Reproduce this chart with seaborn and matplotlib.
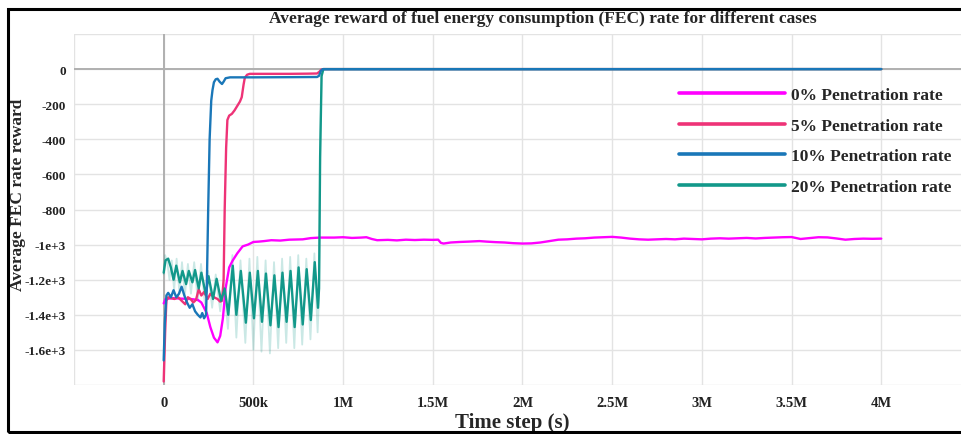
import numpy as np
import pandas as pd
import matplotlib
matplotlib.use("Agg")
import matplotlib.pyplot as plt
import seaborn as sns
from matplotlib.patches import Rectangle
from matplotlib.lines import Line2D

# ---------------- data ----------------
case_labels = ["0% Penetration rate", "5% Penetration rate",
               "10% Penetration rate", "20% Penetration rate"]
case_colors = ["#ff00ff", "#ee3377", "#1a77b8", "#12988a"]

# 0% penetration (smoothed)
t_0pct = [0, 10e3, 50e3, 100e3, 150e3, 190e3, 210e3, 240e3, 260e3, 280e3, 300e3, 315e3,
          330e3, 345e3, 365e3, 385e3, 410e3, 440e3, 470e3, 500e3, 530e3, 560e3, 600e3,
          650e3, 700e3, 775e3, 820e3, 870e3, 950e3, 1000e3, 1050e3, 1100e3, 1130e3,
          1160e3, 1190e3, 1250e3, 1300e3, 1350e3, 1400e3, 1450e3, 1500e3, 1530e3,
          1545e3, 1560e3, 1600e3, 1650e3, 1700e3, 1760e3, 1800e3, 1850e3, 1900e3,
          1950e3, 2000e3, 2050e3, 2100e3, 2150e3, 2200e3, 2250e3, 2300e3, 2350e3,
          2400e3, 2450e3, 2500e3, 2550e3, 2600e3, 2650e3, 2700e3, 2750e3, 2800e3,
          2850e3, 2900e3, 2950e3, 3000e3, 3050e3, 3100e3, 3150e3, 3200e3, 3250e3,
          3300e3, 3350e3, 3400e3, 3450e3, 3500e3, 3550e3, 3600e3, 3650e3, 3700e3,
          3750e3, 3800e3, 3850e3, 3900e3, 3950e3, 4000e3]
r_0pct = [-1335, -1310, -1305, -1308, -1310, -1315, -1330, -1390, -1470, -1530, -1557, -1520,
          -1420, -1250, -1130, -1090, -1050, -1010, -1000, -985, -983, -980, -975,
          -977, -972, -970, -963, -960, -960, -958, -962, -960, -958,
          -968, -975, -973, -976, -972, -974, -972, -973, -972,
          -990, -994, -988, -985, -983, -980, -983, -986, -988,
          -992, -994, -993, -988, -980, -972, -970, -966, -964,
          -960, -958, -956, -960, -966, -970, -972, -970, -968,
          -970, -966, -968, -970, -966, -964, -966, -964, -962,
          -965, -962, -960, -958, -957, -968, -963, -958, -959,
          -965, -972, -968, -966, -967, -966]

# 5% penetration (smoothed)
t_5pct = [0, 8e3, 15e3, 25e3, 40e3, 60e3, 80e3, 100e3, 120e3, 135e3, 150e3, 165e3, 180e3,
          195e3, 210e3, 225e3, 245e3, 260e3, 280e3, 300e3, 315e3, 325e3, 334e3, 340e3,
          348e3, 355e3, 365e3, 380e3, 395e3, 410e3, 425e3, 435e3, 445e3, 452e3, 465e3,
          480e3, 600e3, 700e3, 800e3, 855e3, 868e3, 878e3, 890e3, 4000e3]
r_5pct = [-1780, -1500, -1320, -1300, -1305, -1310, -1300, -1320, -1340, -1300, -1310, -1330, -1315,
          -1255, -1290, -1270, -1310, -1280, -1300, -1310, -1325, -1320, -1200, -800,
          -450, -290, -265, -255, -235, -210, -185, -160, -90, -50, -32,
          -27, -27, -27, -26, -25, -15, -3, 0, 0]

# 10% penetration (smoothed)
t_10pct = [0, 6e3, 15e3, 25e3, 40e3, 55e3, 70e3, 85e3, 100e3, 115e3, 130e3, 145e3, 160e3,
           175e3, 190e3, 205e3, 215e3, 225e3, 236e3, 241e3, 248e3, 256e3, 265e3, 272e3,
           280e3, 290e3, 300e3, 312e3, 325e3, 335e3, 345e3, 370e3, 500e3, 700e3, 855e3,
           866e3, 876e3, 886e3, 4000e3]
r_10pct = [-1660, -1450, -1290, -1275, -1300, -1260, -1300, -1280, -1240, -1290, -1330, -1360, -1340,
           -1380, -1400, -1415, -1390, -1420, -1400, -1200, -800, -400, -180, -120,
           -75, -58, -55, -72, -85, -70, -52, -47, -47, -46, -45,
           -38, -10, -1, 0]

# 20% penetration (smoothed)
t_20pct = [0, 10e3, 25e3, 40e3, 55e3, 70e3, 90e3, 105e3, 125e3, 140e3, 160e3, 175e3, 195e3,
           210e3, 235e3, 250e3, 275e3, 295e3, 320e3, 340e3, 360e3, 385e3, 405e3, 430e3,
           458e3, 480e3, 503e3, 525e3, 548e3, 570e3, 595e3, 617e3, 640e3, 662e3, 685e3,
           707e3, 730e3, 752e3, 775e3, 797e3, 820e3, 842e3, 860e3, 866e3, 872e3, 880e3,
           890e3, 4000e3]
r_20pct = [-1160, -1090, -1080, -1130, -1200, -1120, -1215, -1150, -1225, -1150, -1215, -1145, -1250,
           -1160, -1285, -1180, -1310, -1195, -1320, -1250, -1400, -1120, -1400, -1150,
           -1445, -1160, -1420, -1150, -1440, -1165, -1460, -1175, -1470, -1160, -1440,
           -1150, -1470, -1130, -1455, -1140, -1430, -1100, -1360, -1250, -500, -40,
           0, 0]

# 20% penetration (raw, light band)
t_20pct_raw = [0, 8e3, 20e3, 32e3, 45e3, 58e3, 72e3, 88e3, 102e3, 118e3, 135e3, 152e3, 170e3,
               190e3, 208e3, 230e3, 248e3, 270e3, 290e3, 315e3, 335e3, 358e3, 383e3, 405e3,
               428e3, 455e3, 478e3, 500e3, 522e3, 545e3, 568e3, 592e3, 615e3, 638e3, 660e3,
               683e3, 705e3, 728e3, 750e3, 772e3, 795e3, 818e3, 840e3, 858e3, 866e3, 873e3,
               880e3, 890e3]
r_20pct_raw = [-1170, -1060, -1100, -1200, -1090, -1260, -1080, -1280, -1100, -1290, -1110, -1280, -1100,
               -1320, -1110, -1340, -1150, -1360, -1170, -1380, -1220, -1480, -1060, -1530,
               -1090, -1560, -1080, -1600, -1070, -1610, -1090, -1620, -1100, -1590, -1080,
               -1560, -1070, -1590, -1060, -1570, -1080, -1540, -1050, -1500, -1300, -400,
               -40, 0]

x_ticks = [-500e3, 0, 500e3, 1e6, 1.5e6, 2e6, 2.5e6, 3e6, 3.5e6, 4e6]
x_tick_labels = ["", "0", "500k", "1M", "1.5M", "2M", "2.5M", "3M", "3.5M", "4M"]
y_ticks = [-1800, -1600, -1400, -1200, -1000, -800, -600, -400, -200, 0, 200]
y_tick_labels = ["", "-1.6e+3", "-1.4e+3", "-1.2e+3", "-1e+3", "-800", "-600", "-400",
                 "-200", "0", ""]

title_text = "Average reward of fuel energy consumption (FEC) rate for different cases"
x_label = "Time step (s)"
y_label = "Average FEC rate reward"

# ---------------- build tables ----------------
frames = []
for lab, t, r in zip(case_labels, [t_0pct, t_5pct, t_10pct, t_20pct],
                     [r_0pct, r_5pct, r_10pct, r_20pct]):
    frames.append(pd.DataFrame({"step": t, "reward": r, "case": lab}))
df = pd.concat(frames, ignore_index=True)
df_raw = pd.DataFrame({"step": t_20pct_raw, "reward": r_20pct_raw})

# ---------------- style ----------------
sns.set_theme(style="white")
plt.rcParams["font.family"] = ["Liberation Serif", "DejaVu Serif"]
plt.rcParams["font.weight"] = "bold"

fig = plt.figure(figsize=(9.62, 4.35), dpi=100)
ax = fig.add_axes([74 / 962, 1 - 386 / 435, (962 - 74) / 962, 351 / 435])

palette = dict(zip(case_labels, case_colors))
draw_order = [case_labels[0], case_labels[1], case_labels[3], case_labels[2]]

sns.lineplot(data=df_raw, x="step", y="reward", color=case_colors[3], alpha=0.22,
             linewidth=1.3, estimator=None, sort=False, ax=ax)
sns.lineplot(data=df, x="step", y="reward", hue="case", hue_order=draw_order,
             palette=palette, estimator=None, sort=False, linewidth=1.7,
             legend=False, ax=ax)

ax.set_xlim(-500e3, 4.45e6)
ax.set_ylim(-1800, 200)
ax.set_xticks(x_ticks)
ax.set_xticklabels(x_tick_labels)
ax.set_yticks(y_ticks)
ax.set_yticklabels(y_tick_labels)
ax.tick_params(axis="both", length=0, labelsize=10.5, colors="#222222")
ax.tick_params(axis="y", labelsize=9.5, pad=6)
ax.tick_params(axis="x", pad=8)
for lbl in ax.get_xticklabels() + ax.get_yticklabels():
    lbl.set_fontweight("bold")

ax.grid(True, color="#e3e3e3", linewidth=1.0)
ax.set_axisbelow(True)
ax.axhline(0, color="#b0b0b0", linewidth=1.4, zorder=1)
ax.axvline(0, color="#b0b0b0", linewidth=1.4, zorder=1)
for s in ax.spines.values():
    s.set_visible(False)

ax.set_xlabel(x_label, fontsize=15, fontweight="bold")
ax.xaxis.set_label_coords((512 - 74) / 888, (386 - 423) / 351)
ax.xaxis.label.set_va("center")
ax.set_ylabel(y_label, fontsize=12.5, fontweight="bold")
ax.yaxis.set_label_coords((18 - 74) / 888, (386 - 195) / 351)
ax.yaxis.label.set_va("center")
fig.text(543 / 962, 1 - 19 / 435, title_text, ha="center", va="center",
         fontsize=12.5, fontweight="bold")

handles = [Line2D([0], [0], color=c, linewidth=2.6) for c in case_colors]
leg = ax.legend(handles, case_labels, loc="upper left",
                bbox_to_anchor=(679 / 962, 1 - 88 / 435), bbox_transform=fig.transFigure,
                frameon=False, fontsize=12.5, handlelength=6.1, handletextpad=0.35,
                labelspacing=0.83, borderaxespad=0, borderpad=0)
for txt in leg.get_texts():
    txt.set_fontweight("bold")

fig.patches.append(Rectangle((8 / 962, 2 / 435), 1.0, (433 - 10) / 435,
                             transform=fig.transFigure, fill=False,
                             edgecolor="black", linewidth=2.2, clip_on=False))

fig.savefig("out.png", dpi=100)
